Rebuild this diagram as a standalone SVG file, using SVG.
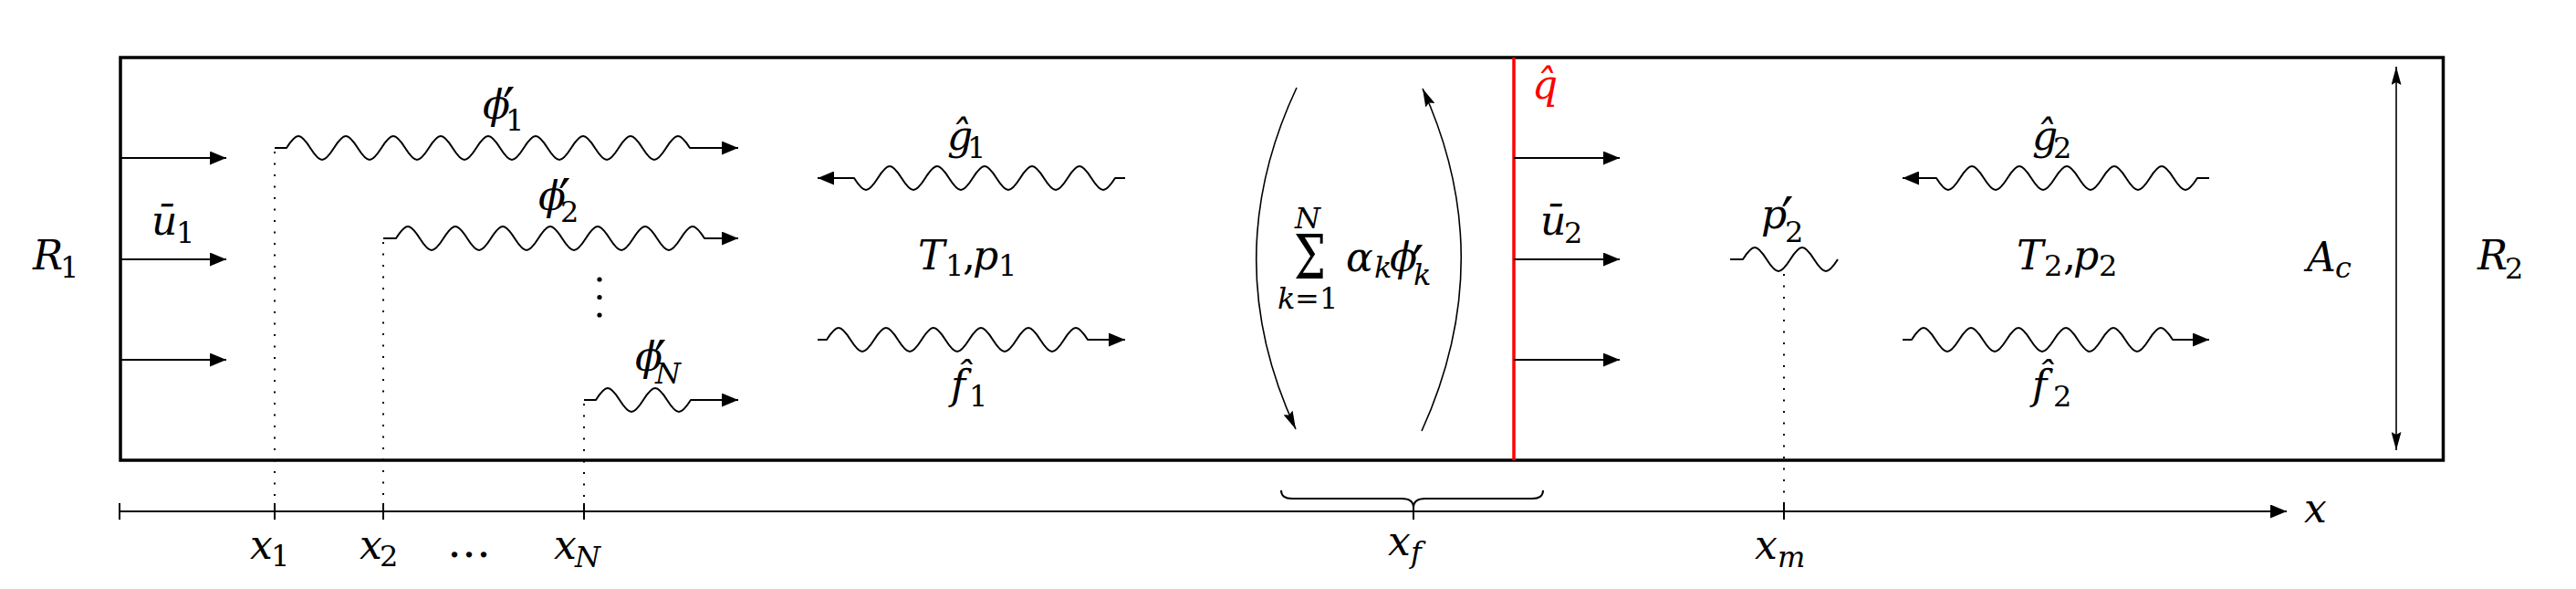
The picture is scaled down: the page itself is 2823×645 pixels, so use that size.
<svg xmlns="http://www.w3.org/2000/svg" width="2823" height="645" viewBox="0 0 2823 645" font-family="DejaVu Serif, serif">
<style>
.m{font-style:italic;font-size:44px;fill:#000}
.s{font-style:normal;font-size:32px}
.si{font-style:italic;font-size:32px}
.u{font-style:normal;font-size:44px;fill:#000}
.pr{font-style:normal;font-size:60px}
.ln{fill:none;stroke:#000;stroke-width:2}
.wv{fill:none;stroke:#000;stroke-width:2;stroke-linejoin:round}
.dot{fill:none;stroke:#000;stroke-width:2;stroke-dasharray:2 10.5}
.thin{fill:none;stroke:#000;stroke-width:1.6}
</style>
<defs>
<marker id="ah" markerUnits="userSpaceOnUse" markerWidth="19" markerHeight="15" refX="18" refY="7.5" orient="auto" viewBox="0 0 19 15"><path d="M0,0 L18,7.5 L0,15 Z" fill="#000"/></marker>
<marker id="at" markerUnits="userSpaceOnUse" markerWidth="21" markerHeight="11" refX="20" refY="5.5" orient="auto-start-reverse" viewBox="0 0 21 11"><path d="M0,0 L20,5.5 L0,11 L3,5.5 Z" fill="#000"/></marker>
</defs>
<rect width="2823" height="645" fill="#fff"/>

<g id="duct">
<rect x="132" y="63" width="2545.5" height="441" fill="none" stroke="#000" stroke-width="3.5"/>
</g>

<g id="flame">
<line x1="1659" y1="63" x2="1659" y2="504" stroke="#ff0000" stroke-width="3.5"/>
<text class="m" x="1679" y="108" style="font-family:'DejaVu Serif';fill:#ff0000">q̂</text>
</g>

<g id="connectors">
<path class="ln" d="M132,173 H248" marker-end="url(#ah)"/>
<path class="ln" d="M132,284 H248" marker-end="url(#ah)"/>
<path class="ln" d="M132,394 H248" marker-end="url(#ah)"/>
<path class="ln" d="M1659,173 H1775" marker-end="url(#ah)"/>
<path class="ln" d="M1659,284 H1775" marker-end="url(#ah)"/>
<path class="ln" d="M1659,394 H1775" marker-end="url(#ah)"/>

<path class="wv" d="M301,162 H314 c11,-17.3 15,-17.3 26,0 c11,17.3 15,17.3 26,0 c11,-17.3 15,-17.3 26,0 c11,17.3 15,17.3 26,0 c11,-17.3 15,-17.3 26,0 c11,17.3 15,17.3 26,0 c11,-17.3 15,-17.3 26,0 c11,17.3 15,17.3 26,0 c11,-17.3 15,-17.3 26,0 c11,17.3 15,17.3 26,0 c11,-17.3 15,-17.3 26,0 c11,17.3 15,17.3 26,0 c11,-17.3 15,-17.3 26,0 c11,17.3 15,17.3 26,0 c11,-17.3 15,-17.3 26,0 c11,17.3 15,17.3 26,0 c11,-17.3 15,-17.3 26,0 H809" marker-end="url(#ah)"/>
<path class="wv" d="M420,261 H434 c11,-17.3 15,-17.3 26,0 c11,17.3 15,17.3 26,0 c11,-17.3 15,-17.3 26,0 c11,17.3 15,17.3 26,0 c11,-17.3 15,-17.3 26,0 c11,17.3 15,17.3 26,0 c11,-17.3 15,-17.3 26,0 c11,17.3 15,17.3 26,0 c11,-17.3 15,-17.3 26,0 c11,17.3 15,17.3 26,0 c11,-17.3 15,-17.3 26,0 c11,17.3 15,17.3 26,0 c11,-17.3 15,-17.3 26,0 H809" marker-end="url(#ah)"/>
<path class="wv" d="M640,438 H653 c11,-17.3 15,-17.3 26,0 c11,17.3 15,17.3 26,0 c11,-17.3 15,-17.3 26,0 c11,17.3 15,17.3 26,0 H809" marker-end="url(#ah)"/>

<path class="wv" d="M1233,195 H1222 c-11,17.3 -15,17.3 -26,0 c-11,-17.3 -15,-17.3 -26,0 c-11,17.3 -15,17.3 -26,0 c-11,-17.3 -15,-17.3 -26,0 c-11,17.3 -15,17.3 -26,0 c-11,-17.3 -15,-17.3 -26,0 c-11,17.3 -15,17.3 -26,0 c-11,-17.3 -15,-17.3 -26,0 c-11,17.3 -15,17.3 -26,0 c-11,-17.3 -15,-17.3 -26,0 c-11,17.3 -15,17.3 -26,0 H896" marker-end="url(#ah)"/>
<path class="wv" d="M896,372 H906 c11,-17.3 15,-17.3 26,0 c11,17.3 15,17.3 26,0 c11,-17.3 15,-17.3 26,0 c11,17.3 15,17.3 26,0 c11,-17.3 15,-17.3 26,0 c11,17.3 15,17.3 26,0 c11,-17.3 15,-17.3 26,0 c11,17.3 15,17.3 26,0 c11,-17.3 15,-17.3 26,0 c11,17.3 15,17.3 26,0 c11,-17.3 15,-17.3 26,0 H1233" marker-end="url(#ah)"/>

<path class="wv" d="M1896,284 H1910 c11,-17.3 15,-17.3 26,0 c11,17.3 15,17.3 26,0 c11,-17.3 15,-17.3 26,0 c11,17.3 15,17.3 26,0"/>

<path class="wv" d="M2421,195 H2408 c-11,17.3 -15,17.3 -26,0 c-11,-17.3 -15,-17.3 -26,0 c-11,17.3 -15,17.3 -26,0 c-11,-17.3 -15,-17.3 -26,0 c-11,17.3 -15,17.3 -26,0 c-11,-17.3 -15,-17.3 -26,0 c-11,17.3 -15,17.3 -26,0 c-11,-17.3 -15,-17.3 -26,0 c-11,17.3 -15,17.3 -26,0 c-11,-17.3 -15,-17.3 -26,0 c-11,17.3 -15,17.3 -26,0 H2085" marker-end="url(#ah)"/>
<path class="wv" d="M2085,372 H2095 c11,-17.3 15,-17.3 26,0 c11,17.3 15,17.3 26,0 c11,-17.3 15,-17.3 26,0 c11,17.3 15,17.3 26,0 c11,-17.3 15,-17.3 26,0 c11,17.3 15,17.3 26,0 c11,-17.3 15,-17.3 26,0 c11,17.3 15,17.3 26,0 c11,-17.3 15,-17.3 26,0 c11,17.3 15,17.3 26,0 c11,-17.3 15,-17.3 26,0 H2421" marker-end="url(#ah)"/>

<path class="thin" d="M1421,96 Q1333,283 1420,470" marker-end="url(#at)"/>
<path class="thin" d="M1558,472 Q1644,283 1559,97" marker-end="url(#at)"/>

<path class="thin" d="M2626,73 V493" marker-start="url(#at)" marker-end="url(#at)"/>

<path class="dot" d="M301,166 V552"/>
<path class="dot" d="M420,265 V552"/>
<path class="dot" d="M640,442 V552"/>
<path class="dot" d="M1955,300 V552"/>

<path class="ln" d="M131,560 H2506" marker-end="url(#ah)"/>
<path class="ln" d="M131,551 V569 M301,551 V569 M420,551 V569 M640,551 V569 M1549,551 V569 M1955,551 V569"/>
<path class="ln" d="M1404,537 Q1404,546 1416,546 H1536 Q1549,546 1549,556 Q1549,546 1562,546 H1679 Q1691,546 1691,537"/>
</g>

<g id="vdots">
<circle cx="657" cy="306" r="2.6"/>
<circle cx="657" cy="325.5" r="2.6"/>
<circle cx="657" cy="345" r="2.6"/>
</g>

<g id="labels-left">
<text class="m" x="36" y="295" style="font-family:'DejaVu Serif'">R<tspan class="s" x="66" y="304">1</tspan></text>
<text class="m" x="166" y="257" style="font-family:'DejaVu Serif'">ū<tspan class="s" x="193" y="266">1</tspan></text>
<text class="m" x="529" y="130" style="font-family:'DejaVu Serif'">ϕ<tspan class="s" x="554" y="143">1</tspan><tspan class="pr" x="551" y="139">′</tspan></text>
<text class="m" x="590" y="230" style="font-family:'DejaVu Serif'">ϕ<tspan class="s" x="614" y="243">2</tspan><tspan class="pr" x="612" y="239">′</tspan></text>
<text class="m" x="696" y="406" style="font-family:'DejaVu Serif'">ϕ<tspan class="si" x="718" y="420">N</tspan><tspan class="pr" x="717" y="416">′</tspan></text>
</g>

<g id="region1">
<text class="m" x="1038" y="164" style="font-family:'DejaVu Serif'">ĝ<tspan class="s" x="1060" y="173">1</tspan></text>
<text class="m" x="1006" y="295" style="font-family:'DejaVu Serif'">T<tspan class="s" x="1036" y="302">1</tspan><tspan class="u" x="1055" y="295">,</tspan><tspan x="1066" y="295">p</tspan><tspan class="s" x="1094" y="302">1</tspan></text>
<text class="m" x="1042" y="437" style="font-family:'DejaVu Serif'">f̂<tspan class="s" x="1062" y="445">1</tspan></text>
</g>

<g id="modes-sum">
<text class="si" x="1419" y="250" style="font-family:'DejaVu Serif'">N</text>
<text class="u" x="1418" y="305" style="font-family:'DejaVu Serif';font-size:68px" textLength="35" lengthAdjust="spacingAndGlyphs">Σ</text>
<text class="si" x="1400" y="338" style="font-family:'DejaVu Serif'">k<tspan class="s" x="1419" y="338">=</tspan><tspan class="s" x="1446" y="338">1</tspan></text>
<text class="m" x="1475" y="297" style="font-family:'DejaVu Serif'">α<tspan class="si" x="1506" y="304">k</tspan><tspan x="1523" y="297">ϕ</tspan><tspan class="si" x="1549" y="312">k</tspan><tspan class="pr" x="1547" y="312">′</tspan></text>
</g>

<g id="region2">
<text class="m" x="1688" y="257" style="font-family:'DejaVu Serif'">ū<tspan class="s" x="1714" y="266">2</tspan></text>
<text class="m" x="1930" y="250" style="font-family:'DejaVu Serif'">p<tspan class="s" x="1956" y="265">2</tspan><tspan class="pr" x="1952" y="259">′</tspan></text>
<text class="m" x="2227" y="164" style="font-family:'DejaVu Serif'">ĝ<tspan class="s" x="2250" y="173">2</tspan></text>
<text class="m" x="2210" y="295" style="font-family:'DejaVu Serif'">T<tspan class="s" x="2240" y="302">2</tspan><tspan class="u" x="2261" y="295">,</tspan><tspan x="2272" y="295">p</tspan><tspan class="s" x="2300" y="302">2</tspan></text>
<text class="m" x="2227" y="437" style="font-family:'DejaVu Serif'">f̂<tspan class="s" x="2250" y="445">2</tspan></text>
<text class="m" x="2528" y="297" style="font-family:'DejaVu Serif'">A<tspan class="si" x="2559" y="304">c</tspan></text>
<text class="m" x="2715" y="295" style="font-family:'DejaVu Serif'">R<tspan class="s" x="2745" y="305">2</tspan></text>
</g>

<g id="axis-labels">
<text class="m" x="274" y="612" style="font-family:'DejaVu Serif'">x<tspan class="s" x="297" y="620">1</tspan></text>
<text class="m" x="394" y="612" style="font-family:'DejaVu Serif'">x<tspan class="s" x="416" y="620">2</tspan></text>
<text class="u" x="490" y="610" style="font-family:'DejaVu Serif';font-size:48px">…</text>
<text class="m" x="607" y="612" style="font-family:'DejaVu Serif'">x<tspan class="si" x="630" y="621">N</tspan></text>
<text class="m" x="1521" y="608" style="font-family:'DejaVu Serif'">x<tspan class="si" x="1546" y="616">f</tspan></text>
<text class="m" x="1923" y="612" style="font-family:'DejaVu Serif'">x<tspan class="si" x="1948" y="621">m</tspan></text>
<text class="m" x="2525" y="572" style="font-family:'DejaVu Serif'">x</text>
</g>
</svg>
